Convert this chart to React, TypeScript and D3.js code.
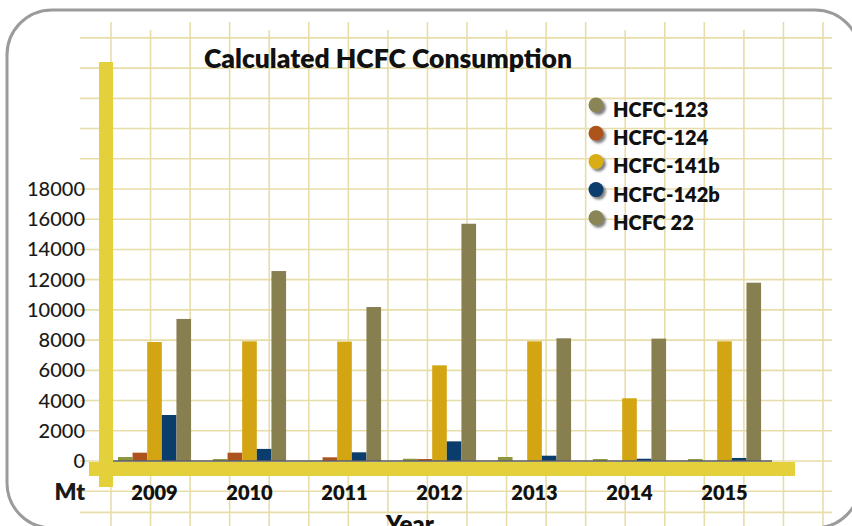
import React from 'react';
import * as d3 from 'd3';

// values (Mt)
const years = ['2009', '2010', '2011', '2012', '2013', '2014', '2015'];
const hcfc123 = [265, 130, 0, 150, 265, 130, 130];
const hcfc124 = [550, 550, 245, 130, 0, 0, 0];
const hcfc141b = [7875, 7920, 7900, 6330, 7920, 4150, 7920];
const hcfc142b = [3045, 800, 575, 1300, 350, 150, 200];
const hcfc22 = [9400, 12570, 10190, 15700, 8120, 8100, 11800];
const yTicks = [0, 2000, 4000, 6000, 8000, 10000, 12000, 14000, 16000, 18000];
const gridRows = [-3400, -2000, 0, 2000, 4000, 6000, 8000, 10000, 12000, 14000, 16000, 18000, 20000, 22000, 24000, 26000, 28000];

const series = [
  { label: 'HCFC-123', values: hcfc123, color: '#8e963e', dot: '#8a8556' },
  { label: 'HCFC-124', values: hcfc124, color: '#ad531d', dot: '#ad531d' },
  { label: 'HCFC-141b', values: hcfc141b, color: '#d3a512', dot: '#d9ad14' },
  { label: 'HCFC-142b', values: hcfc142b, color: '#0b3d6c', dot: '#0b3d6c' },
  { label: 'HCFC 22', values: hcfc22, color: '#877f4f', dot: '#8a8556' },
];

const W = 852;
const H = 526;
const FONT = 'Lato, "Open Sans", sans-serif';

const App = () => {
  const y = d3.scaleLinear().domain([0, 18000]).range([461, 189]);
  const x0 = d3.scaleBand<string>().domain(years).range([107, 772]).paddingInner(0.23).paddingOuter(0.115);
  const x1 = d3.scaleBand<string>().domain(series.map(s => s.label)).range([0, x0.bandwidth()]);
  const gx = d3.scaleLinear().domain([0, 18]).range([111, 823]);
  const gridColor = '#e7dda9';
  const axisYellow = '#e4d03a';

  return (
    <svg width={W} height={H} style={{ position: 'absolute', left: 0, top: 0, background: '#fff' }}>
      <defs>
        <filter id="dotShadow" x="-50%" y="-50%" width="200%" height="200%">
          <feDropShadow dx="2.5" dy="2.5" stdDeviation="1.2" floodColor="#555" floodOpacity="0.75" />
        </filter>
      </defs>

      {/* grid */}
      {d3.range(19).map(i => (
        <line key={'v' + i} x1={gx(i)} x2={gx(i)} y1={i % 3 === 1 ? 30 : 22} y2={H} stroke={gridColor} strokeWidth={1.6} />
      ))}
      {gridRows.map(v => (
        <line key={'h' + v} x1={80} x2={832} y1={y(v)} y2={y(v)} stroke={gridColor} strokeWidth={1.6} />
      ))}

      {/* frame */}
      <rect x={7} y={10} width={853} height={518} rx={45} ry={45} fill="none" stroke="#9b9b9d" strokeWidth={3} />

      {/* title */}
      <text x={388} y={68} textAnchor="middle" fontFamily={FONT} fontWeight={800} fontSize={26} fill="#111" textLength={368} lengthAdjust="spacingAndGlyphs">
        Calculated HCFC Consumption
      </text>

      {/* bars */}
      {years.map((yr, i) => (
        <g key={yr} transform={`translate(${x0(yr)},0)`}>
          {series.map(s => {
            const v = s.values[i];
            if (!v) return null;
            return (
              <rect key={s.label} x={x1(s.label)} width={x1.bandwidth()} y={y(v)} height={y(0) - y(v)} fill={s.color} />
            );
          })}
        </g>
      ))}
      <line x1={113} x2={772} y1={y(0)} y2={y(0)} stroke="#5a5d6a" strokeWidth={1.5} />

      {/* yellow axes */}
      <rect x={99} y={62} width={14} height={425} fill={axisYellow} />
      <rect x={89} y={y(0) + 1} width={706} height={14} fill={axisYellow} />

      {/* y tick labels */}
      {yTicks.map(t => (
        <text key={t} x={85} y={y(t)} dy="0.35em" textAnchor="end" fontFamily={FONT} fontWeight={500} fontSize={20} fill="#1a1a1a">
          {t}
        </text>
      ))}
      <text x={85} y={500} textAnchor="end" fontFamily={FONT} fontWeight={800} fontSize={23} fill="#1a1a1a">Mt</text>

      {/* x labels */}
      {years.map(yr => (
        <text key={yr} x={(x0(yr) ?? 0) + x0.bandwidth() / 2} y={500} textAnchor="middle" fontFamily={FONT} fontWeight={800} fontSize={20} fill="#111">
          {yr}
        </text>
      ))}
      <text x={410} y={533} textAnchor="middle" fontFamily={FONT} fontWeight={800} fontSize={24} fill="#111">Year</text>

      {/* legend */}
      {series.map((s, i) => (
        <g key={s.label} transform={`translate(0,${105 + i * 28.2})`}>
          <circle cx={596} cy={0} r={7.5} fill={s.dot} filter="url(#dotShadow)" />
          <text x={613} y={12} fontFamily={FONT} fontWeight={800} fontSize={20} fill="#111">{s.label}</text>
        </g>
      ))}
    </svg>
  );
};

export default App;
